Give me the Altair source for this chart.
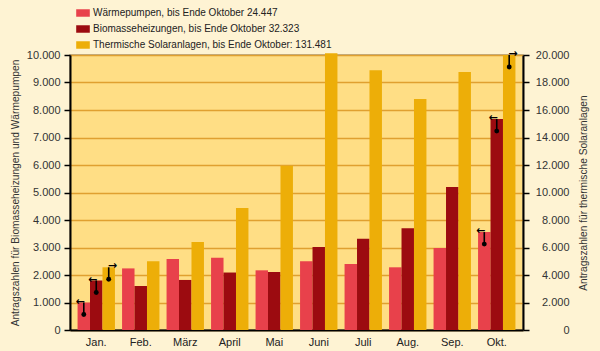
import altair as alt
import pandas as pd

months = ["Jan.", "Feb.", "März", "April", "Mai", "Juni", "Juli", "Aug.", "Sep.", "Okt."]
series = [
    "Wärmepumpen, bis Ende Oktober 24.447",
    "Biomasseheizungen, bis Ende Oktober 32.323",
    "Thermische Solaranlagen, bis Ende Oktober: 131.481",
]
colors = ["#E8414B", "#9C0B10", "#EDAE08"]

waerme = [1000, 2240, 2580, 2630, 2170, 2500, 2400, 2280, 2980, 3560]
bio = [1800, 1600, 1820, 2090, 2110, 3020, 3320, 3700, 5200, 7670]
solar = [4560, 5000, 6400, 8870, 11950, 20120, 18900, 16800, 18760, 20000]

# annotation markers: (month, series index, direction)
marker_month = ["Jan.", "Jan.", "Jan.", "Okt.", "Okt.", "Okt."]
marker_series = [0, 1, 2, 0, 1, 2]
marker_dir = ["left", "left", "right", "left", "left", "right"]

rows = []
for i, m in enumerate(months):
    rows.append({"Monat": m, "Serie": series[0], "Wert": waerme[i], "side": "L"})
    rows.append({"Monat": m, "Serie": series[1], "Wert": bio[i], "side": "L"})
    rows.append({"Monat": m, "Serie": series[2], "Wert": solar[i], "side": "R"})
df = pd.DataFrame(rows)

mrows = []
for m, s, d in zip(marker_month, marker_series, marker_dir):
    vals = [waerme, bio, solar][s]
    mrows.append({"Monat": m, "Serie": series[s], "Wert": vals[months.index(m)],
                  "dir": d, "side": "R" if s == 2 else "L"})
mdf = pd.DataFrame(mrows)

FONT = "Liberation Sans"
label_expr = "replace(format(datum.value, ','), ',', '.')"

x_enc = alt.X("Monat:N", sort=months,
              scale=alt.Scale(paddingInner=0.16, paddingOuter=0.17),
              axis=alt.Axis(title=None, labelAngle=0, ticks=False, domainColor="black",
                            domainWidth=2, labelFontSize=11, labelPadding=6,
                            labelColor="#222", labelFont=FONT))
xoff_enc = alt.XOffset("Serie:N", scale=alt.Scale(domain=series, paddingInner=0, paddingOuter=0))
color_enc = alt.Color("Serie:N", scale=alt.Scale(domain=series, range=colors),
                      legend=alt.Legend(title=None, orient="none", legendX=6, legendY=-49,
                                        symbolType="M-1,-0.55 h2 v1.1 h-2 z", symbolSize=185,
                                        symbolStrokeWidth=0, labelFontSize=10, labelFont=FONT,
                                        labelColor="#222", labelOffset=3, rowPadding=4,
                                        padding=0, labelLimit=0))

left_scale = alt.Scale(domain=[0, 10000], nice=False, zero=True)
right_scale = alt.Scale(domain=[0, 20000], nice=False, zero=True)

left_axis = alt.Axis(title="Antragszahlen für Biomasseheizungen und Wärmepumpen",
                     orient="left",
                     values=list(range(0, 10001, 1000)), labelExpr=label_expr,
                     grid=True, gridColor="#E0A030", gridWidth=1.5,
                     domainColor="black", domainWidth=2, tickColor="black", tickSize=6,
                     tickWidth=1.5, labelFont=FONT, labelFontSize=11, labelColor="#333",
                     labelPadding=4, titleFont=FONT, titleFontSize=10.2,
                     titleFontWeight="normal", titleColor="#333", titlePadding=6)
right_axis = alt.Axis(title="Antragszahlen für thermische Solaranlagen", orient="right",
                      values=list(range(0, 20001, 2000)), labelExpr=label_expr,
                      grid=False, domainColor="black", domainWidth=2, tickColor="black",
                      tickSize=6, tickWidth=1.5, labelFont=FONT, labelFontSize=11,
                      labelColor="#333", labelAlign="right", labelPadding=40,
                      titleFont=FONT, titleFontSize=10.2, titleFontWeight="normal",
                      titleColor="#333", titleAngle=270, titlePadding=19)


def group(side, scale, axis):
    d = df[df.side == side]
    md = mdf[mdf.side == side]
    y_enc = alt.Y("Wert:Q", scale=scale, axis=axis)
    bars = alt.Chart(d).mark_bar(opacity=1).encode(
        x=x_enc, xOffset=xoff_enc, color=color_enc, y=y_enc,
    )
    base = alt.Chart(md).encode(x=x_enc, xOffset=xoff_enc, y=y_enc)
    stem = base.mark_rule(color="black", strokeWidth=1.6, y2Offset=12).encode(y2="Wert:Q")
    dot = base.mark_circle(color="black", opacity=1, size=24, yOffset=12)
    arr_l = base.transform_filter("datum.dir == 'left'").mark_text(
        text="←", font="DejaVu Sans", fontSize=11, fontWeight="bold", align="right",
        baseline="middle", dx=1, dy=-1, color="black")
    arr_r = base.transform_filter("datum.dir == 'right'").mark_text(
        text="→", font="DejaVu Sans", fontSize=11, fontWeight="bold", align="left",
        baseline="middle", dx=-1, dy=-1, color="black")
    return alt.layer(bars, stem, dot, arr_l, arr_r)


left = group("L", left_scale, left_axis)
right = group("R", right_scale, right_axis)

chart = alt.layer(left, right).resolve_scale(y="independent").properties(
    width=453, height=275,
    autosize=alt.AutoSizeParams(type="none"),
    padding={"left": 70, "top": 55, "right": 77, "bottom": 21},
    background="#FEF3D3",
).configure_view(fill="#FFDE85", stroke="#A89878", strokeWidth=1.5)

chart.save("out.html", embed_options={"renderer": "svg", "actions": False})
